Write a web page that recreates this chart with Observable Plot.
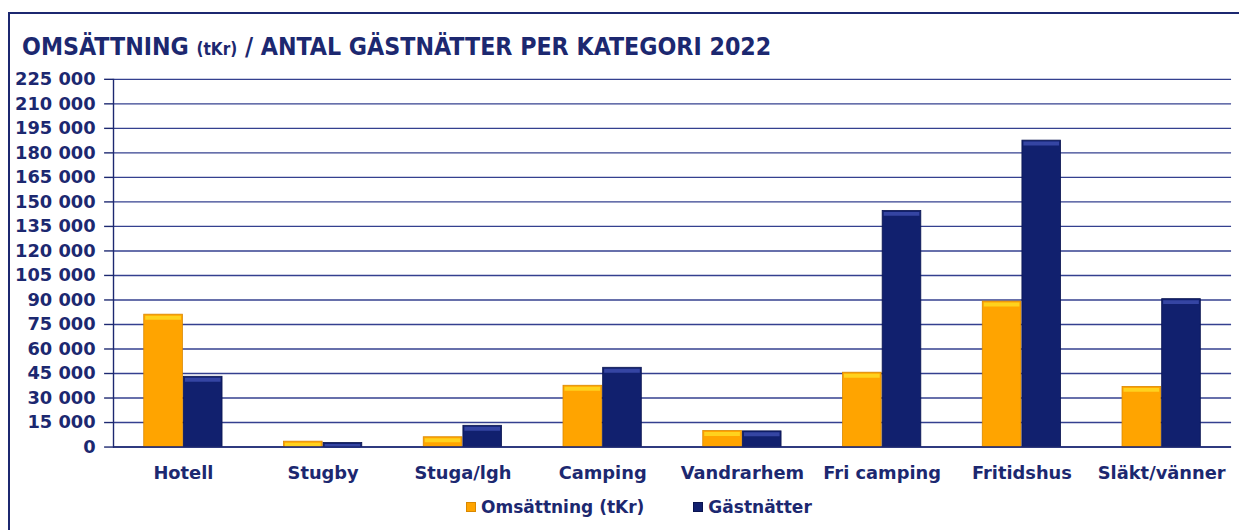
<!DOCTYPE html>
<html>
<head>
<meta charset="utf-8">
<script src="https://cdn.jsdelivr.net/npm/d3@7"></script>
<script src="https://cdn.jsdelivr.net/npm/@observablehq/plot@0.6"></script>
<style>
  html, body { margin: 0; padding: 0; background: #fff; width: 1239px; height: 530px; overflow: hidden; }
  body { position: relative; font-family: "DejaVu Sans", sans-serif; color: #1c2870; }
  #frame { position: absolute; left: 8px; top: 12px; width: 1260px; height: 560px; border: 2px solid #1c2870; box-sizing: border-box; }
  #title { position: absolute; left: 22px; top: 32px; font-family: "DejaVu Sans Condensed", "DejaVu Sans", sans-serif; font-size: 24.7px; font-weight: bold; white-space: nowrap; }
  #title small { font-size: 17px; }
  #chart { position: absolute; left: 0; top: 60px; line-height: 0; }
  #legend { position: absolute; left: 466px; top: 497px; font-size: 17px; font-weight: bold; white-space: nowrap; display: flex; align-items: center; }
  .sw { display: inline-block; width: 10px; height: 10px; margin-right: 5px; box-sizing: border-box; }
  .item { display: inline-flex; align-items: center; margin-right: 49px; }
</style>
</head>
<body>
<div id="frame"></div>
<div id="title">OMSÄTTNING <small>(tKr)</small> / ANTAL GÄSTNÄTTER PER KATEGORI 2022</div>
<div id="chart"></div>
<div id="legend"></div>
<script>
const categories = ["Hotell", "Stugby", "Stuga/lgh", "Camping", "Vandrarhem", "Fri camping", "Fritidshus", "Släkt/vänner"];
const omsattning = [81000, 3300, 6000, 37500, 9800, 45500, 89000, 36800];
const gastnatter = [43000, 2500, 13000, 48500, 9600, 144500, 187500, 90500];
const seriesNames = ["Omsättning (tKr)", "Gästnätter"];
const seriesColors = ["#ffa400", "#11206e"];
const yTicks = [0, 15000, 30000, 45000, 60000, 75000, 90000, 105000, 120000, 135000, 150000, 165000, 180000, 195000, 210000, 225000];

const rowsO = categories.map((c, i) => ({cat: c, v: omsattning[i]}));
const rowsG = categories.map((c, i) => ({cat: c, v: gastnatter[i]}));

const W = 1250, H = 430, ML = 114, MR = 8;
const bw = (W - ML - MR) / categories.length;
const half = bw / 2, barW = 40;
const fmt = d => d3.format(",")(d).replace(/,/g, " ");
const navy = "#1c2870";

const plot = Plot.plot({
  width: W, height: H,
  marginLeft: ML, marginRight: MR, marginTop: 19, marginBottom: 40,
  style: {fontFamily: '"DejaVu Sans", sans-serif', fontWeight: "bold", color: navy, background: "transparent"},
  x: {domain: categories, padding: 0, label: null},
  y: {domain: [0, 225000], label: null},
  marks: [
    Plot.ruleY(yTicks, {stroke: "#34408f", strokeWidth: 1.4}),
    Plot.axisY({ticks: yTicks, tickFormat: fmt, tickSize: 9, tickPadding: 9, fontSize: 18, stroke: navy, strokeWidth: 1.4, label: null}),
    Plot.axisX({tickSize: 0, tickPadding: 19, fontSize: 18, label: null}),
    Plot.frame({anchor: "left", stroke: navy, strokeWidth: 1.4}),
    Plot.barY(rowsO, {x: "cat", y: "v", fill: seriesColors[0], stroke: "#d98800", strokeWidth: 0.8, insetLeft: half - barW + 0.5, insetRight: half + 0.5}),
    Plot.barY(rowsG, {x: "cat", y: "v", fill: seriesColors[1], stroke: "#0a1450", strokeWidth: 0.8, insetLeft: half + 0.5, insetRight: half - barW + 0.5}),
    Plot.tickY(rowsO, {x: "cat", y: "v", stroke: "#ffd21e", strokeWidth: 4, dy: 3, insetLeft: half - barW + 2, insetRight: half + 2}),
    Plot.tickY(rowsG, {x: "cat", y: "v", stroke: "#3545a3", strokeWidth: 4, dy: 3, insetLeft: half + 2, insetRight: half - barW + 2}),
    Plot.ruleY([0], {stroke: navy, strokeWidth: 1.6})
  ]
});
document.getElementById("chart").appendChild(plot);

const lg = document.getElementById("legend");
seriesNames.forEach((n, i) => {
  const it = document.createElement("span");
  it.className = "item";
  const sw = document.createElement("span");
  sw.className = "sw";
  sw.style.background = seriesColors[i];
  sw.style.border = "1px solid " + (i ? "#0a1450" : "#d98800");
  it.appendChild(sw);
  it.appendChild(document.createTextNode(n));
  lg.appendChild(it);
});
</script>
</body>
</html>
